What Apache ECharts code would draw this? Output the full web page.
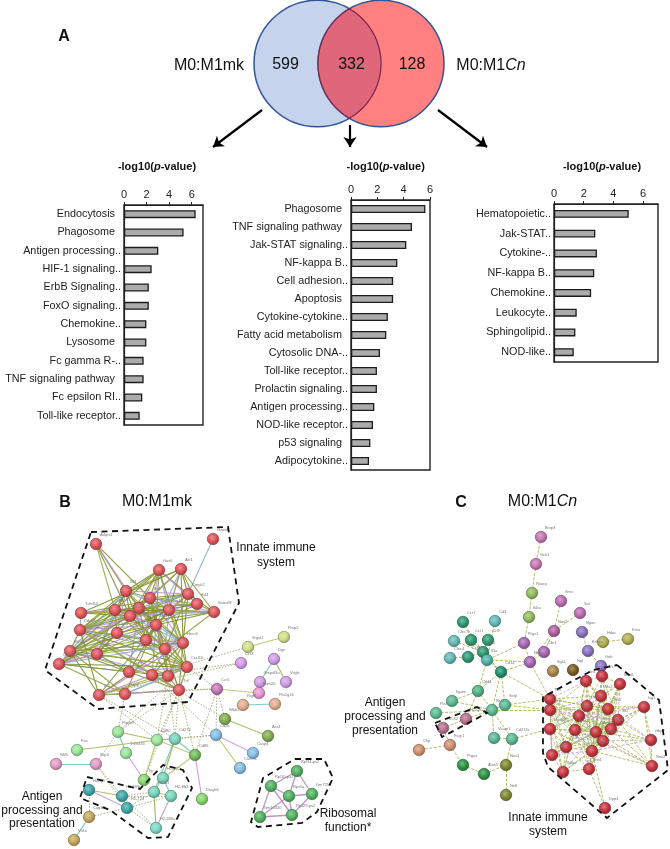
<!DOCTYPE html>
<html><head><meta charset="utf-8">
<style>html,body{margin:0;padding:0;background:#fff}#c{width:670px;height:849px}</style>
<script src="https://cdn.jsdelivr.net/npm/echarts@6/dist/echarts.min.js"></script>
</head><body><div id="c"></div>
<script>
const N2 = '\u00a0\u00a0';
const tickLabels = [0, 2, 4, 6];
const catsA = ['Endocytosis'+N2,'Phagosome'+N2,'Antigen processing..','HIF-1 signaling..','ErbB Signaling..','FoxO signaling..','Chemokine..','Lysosome'+N2,'Fc gamma R-..','TNF signaling pathway'+N2,'Fc epsilon RI..','Toll-like receptor..'];
const valsA = [6.35,5.28,3.04,2.45,2.2,2.2,1.98,1.98,1.74,1.74,1.62,1.39];
const catsB = ['Phagosome'+N2,'TNF signaling pathway'+N2,'Jak-STAT signaling..','NF-kappa B..','Cell adhesion..','Apoptosis'+N2,'Cytokine-cytokine..','Fatty acid metabolism'+N2,'Cytosolic DNA-..','Toll-like receptor..','Prolactin signaling..','Antigen processing..','NOD-like receptor..','p53 signaling'+N2,'Adipocytokine..'];
const valsB = [5.65,4.63,4.2,3.52,3.2,3.2,2.8,2.68,2.2,1.97,1.97,1.77,1.67,1.47,1.37];
const catsC = ['Hematopoietic..','Jak-STAT..','Cytokine-..','NF-kappa B..','Chemokine..','Leukocyte..','Sphingolipid..','NOD-like..'];
const valsC = [5.03,2.78,2.89,2.71,2.5,1.53,1.44,1.33];

// Network B: [gene, layoutX, layoutY, group]
const netB = [
['Adgre1',96,544,'r'],['Gzmb2',213,539,'r'],['Gas6',159,570,'r'],['Axl1',181,569,'r'],['Il44',126,591,'r'],['Ifit1',150,598,'r'],['Cmpk2',188,594,'r'],['Ifi44',197,604,'r'],['Samd9l',214,612,'r'],['Tnfsf10',81,613,'r'],
['Irf7',115,610,'r'],['Stat1',139,608,'r'],['Isg15',169,610,'r'],['Oasl1',130,616,'r'],['Mx1',156,625,'r'],['Ddx58',80,630,'r'],['Ifih1',117,633,'r'],['Rsad2',146,640,'r'],['Herc6',183,643,'r'],['Usp18',165,649,'r'],
['Slfn5',70,651,'r'],['Zbp1',97,654,'r'],['Clec4e',59,664,'r'],['Cxcl9',129,672,'r'],['Cxcl10',187,667,'r'],['Ccl5',152,675,'r'],['Il6',168,676,'r'],['Tlr2',99,695,'r'],['Ptgs2',125,694,'r'],['Tnf',179,690,'r'],
['Stgal1',248,647,'y'],['Pmp2',284,637,'y'],['Ccr3',241,663,'p'],['Dgn',274,659,'p'],['Smpdl3a',260,682,'p'],['Vegfc',286,682,'p'],['Fam20',259,693,'k'],['Ccr5',217,689,'m'],['Pigt3',243,705,'o'],['Pla2g16',275,704,'o'],
['Nfkb2',225,719,'g'],['Ass1',268,736,'g'],['Cd2b',216,735,'b'],['Casp4',253,753,'b'],['Clec7a',240,768,'b'],['Ptprb9',118,732,'l'],['Cd80',157,740,'l'],['Cd274',175,739,'q'],['Cd86',195,755,'d'],['Fas',77,750,'l'],
['Tnfrsf26',126,753,'l'],['Tyr',144,780,'h'],['Dnajb6',202,799,'h'],['Nfil5',56,764,'i'],['Sqs3',96,764,'i'],['H2-T22',163,778,'q'],['H2-Q4',89,790,'t'],['H2-DMb',122,796,'t'],['H2-T23',127,808,'t'],['H2-K1',154,792,'q'],
['H2-Eb1',171,796,'q'],['H2-DMa',156,828,'v'],['Cog3d',89,817,'n'],['Vti1a',74,840,'n'],['Rpl34-ps2',297,771,'e'],['Rpl10-ps2',271,786,'e'],['Rps5a',289,796,'e'],['Gm7297',312,794,'e'],['Rps29-ps2',292,815,'e'],['Gm10320',260,817,'e']
];
// adjacency of the innate immune cluster in B: [source, ...targets]
const adjB = [
[0,4,5,11,13,10],[1,6],[2,4,5,6,7,10,11,12,13,14,15,17,18],[3,4,5,6,7,8,11,12,13,14,9,18],[4,5,6,10,11,12,13,14,15,16,17,18,20,21],[5,6,7,8,11,12,13,14,15,17,18,19,20],[6,7,8,9,11,12,13,14,15,18,19],[7,8,9,10,11,12,13,14],[8,9,10,11,12,13,14,15,19],[9,11,13,12,15],
[10,11,12,13,14,15,17,21,22,16],[11,12,13,14,15,16,17,18,19,20,21,22,23,24],[12,13,14,15,17,18,19,20,22,24],[13,14,15,17,18,19,20,24],[14,15,16,17,18,19,20,21,22,23,24,25,26,27,28,29],[15,17,18,19,20,24,25,26,27,29],[16,17,21,22,24],[17,18,19,20,21,22,24,26],[18,19,20,21,22,24,25,26,27,29],[19,20,25,26,27,29],
[20,22,24,25,26,27,29,28],[21,22,23,24],[22,23,24,26,28],[23,24],[24,26,27,28,29,25],[25,26,27,29],[26,27,28,29],[27,29,28],[28,29]
];
const solidB = [[30,31],[33,34],[33,35],[34,36],[36,37],[38,39],[40,41],[42,43],[42,44],[45,50],[46,49],[46,47],[46,48],[47,48],[46,45],[50,51],[46,51],[47,59],[47,55],[48,52],[48,55],[53,54],[59,61],[60,61],[55,59],[55,60],[56,57],[56,58],[59,60],[62,63]];
const dottedB = [[25,30],[25,32],[27,32],[27,37],[29,37],[45,29],[45,28],[45,24],[46,26],[46,29],[46,27],[47,27],[47,29],[47,26],[42,37],[42,47],[42,46],[48,37],[40,25],[42,25],[54,45],[37,40],[57,58],[57,59],[58,59],[57,60],[58,60],[57,61],[58,61],[54,57],[54,58],[62,56],[62,58],[48,29],[51,29],[37,24]];
const riboB = [[64,65],[64,66],[64,67],[65,66],[65,69],[65,68],[66,67],[66,68],[66,69],[67,68],[69,68]];

const netC = [
['Bnip3',541,537,'m'],['Gch1',536,564,'m'],['Pparg',532,593,'w'],['Il4ra',529,617,'w'],['Sms',561,601,'j'],['Sat',580,613,'j'],['Nos2',554,631,'c'],['Ptgs1',524,643,'u'],['Cbr1',544,652,'u'],['Hif1a',530,662,'u'],
['Ngan',582,632,'z'],['Ednra',588,651,'z'],['Gnb',601,666,'z'],['Hdac',603,642,'x'],['Kmo',628,639,'x'],['Sgk1',553,671,'f'],['Ngf',573,670,'f2'],
['Ccr7',463,622,'s'],['Cd3',495,621,'aa'],['Clec7c',454,641,'aa'],['Ccr1',471,640,'s'],['Ccl9',488,640,'s'],['Clec4',450,658,'aa'],['Ccl2',468,657,'s'],['Ccl6',483,652,'s'],['Il1a',487,660,'ab'],['Cd14',501,672,'ac'],
['Cd44',478,691,'ad'],['Itgam',452,701,'ae'],['Plat',436,713,'ae'],['Ncf1',492,710,'ae'],['Selp',505,705,'ae'],['Vcam1',494,738,'ae'],['Cd274c',512,739,'ae'],['H2-Q7',466,719,'af'],['H2-K2',443,728,'af'],['Fcgr1',450,745,'ag'],['Chp',419,750,'ag'],['Ptges',463,765,'ah'],['Alox5',484,774,'ah'],['Nos1',506,765,'ai'],['Nefl',506,795,'ai'],
['Irf1',586,681,'cr'],['Irf7c',602,676,'cr'],['Mnd1',620,684,'cr'],['Mx2',601,696,'cr'],['Tlr3',550,699,'cr'],['Tlr7',550,710,'cr'],['Oas1',587,706,'cr'],['Oas2',608,709,'cr'],['Isg1',644,707,'cr'],['Ifi35',579,716,'cr'],
['Ifit2',618,720,'cr'],['Myd88',550,729,'cr'],['Stat2',575,730,'cr'],['Ddx60',596,732,'cr'],['Rtp4',611,729,'cr'],['Dhx58',603,741,'cr'],['Gbp2',651,740,'cr'],['Zc3h',566,747,'cr'],['Parp14',592,751,'cr'],['Cd69',552,755,'cr'],
['Nmi2',652,766,'cr'],['Ikbke',563,772,'cr'],['Ifnb1',589,769,'cr'],['Dpp4',605,808,'cr']
];
const adjC = [
[42,43,45,48,51,54,55,60,46,47,49,52],[43,44,45,48,49,56,55,60,52],[44,45,48,49,52,56,57,55,60],[45,48,49,51,52,54,55,56,57,60,64,47,46],[46,47,48,51,53,54,55,59,60,61,49,56],[47,48,49,51,53,54,55,56,57,59,60,61,63,52],[48,49,51,52,54,55,56,57,60,59,64,50,53],[49,50,51,52,54,55,56,57,58,60,59,64],[50,52,55,56,57,58,62,51],[51,53,54,55,56,57,59,60,61,64,52,63],
[52,54,55,56,57,58,60,62,59,64],[53,54,55,59,60,61,63,51],[54,55,56,57,59,60,61,63,64,62],[55,56,57,58,59,60,61,64,62,63],[56,57,58,60,62,64,59],[57,58,59,60,62,64,63,61],[58,62,60],[59,60,61,63,64],[60,61,63,64,62,65],[61,63],[63,64],[64,65]
];
const otherC = [[0,1],[1,2],[2,3],[3,7],[4,6],[5,6],[6,9],[7,9],[8,9],[6,8],[9,26],[9,25],[7,25],[10,11],[11,12],[13,14],[17,24],[18,25],[19,24],[20,24],[21,24],[22,23],[23,24],[24,25],[25,26],[20,26],[24,26],[26,27],[26,30],[26,31],[27,30],[27,28],[27,34],[28,30],[29,30],[30,31],[30,32],[30,33],[32,33],[34,35],[34,30],[36,37],[36,38],[38,39],[39,40],[40,41],[33,40],[35,36],[9,46],[26,46],[31,46],[31,47],[30,47],[33,53],[12,43],[25,27]];

const groupColors = {r:'#e0555c',y:'#cfe08a',p:'#d39ce6',k:'#e89ad6',m:'#c678b6',o:'#e2ae8e',g:'#82ad50',b:'#86bfe8',l:'#9be69a',q:'#76d6bc',d:'#72bb5a',h:'#84d86e',i:'#e49cc4',t:'#3fa8a8',v:'#7fd8c4',n:'#c4a85c',e:'#52b460',
w:'#93bd60',j:'#bc6cb4',c:'#b0609e',u:'#a866b6',z:'#8a72c2',x:'#b2b052',f:'#a8864a',f2:'#7a5c22',s:'#2f9a72',aa:'#62bab6',ab:'#50b2a8',ac:'#1f9070',ad:'#4fb284',ae:'#5cba92',af:'#b8708e',ag:'#d2916f',ah:'#2e9444',ai:'#7e8a30',cr:'#c9363f'};

const BOX = [
 {cats:catsA, vals:valsA, left:124, right:203, top:205, bottom:425, max:7, bw:8},
 {cats:catsB, vals:valsB, left:351, right:430, top:200, bottom:470, max:6, bw:8},
 {cats:catsC, vals:valsC, left:554, right:658, top:204, bottom:362, max:7, bw:8}
];
const ink = '#222';
function shade(hex, f){
  const n = parseInt(hex.slice(1),16), c=[n>>16,(n>>8)&255,n&255];
  const m = c.map(v=>Math.round(f>1? v+(255-v)*(f-1): v*f));
  return 'rgb('+m.join(',')+')';
}
function ball(hex){
  return {type:'radial',x:.42,y:.38,r:.62,colorStops:[{offset:0,color:shade(hex,1.35)},{offset:.55,color:hex},{offset:1,color:shade(hex,.72)}]};
}
function nodes(list){
  return list.map(n=>({name:n[0],value:[n[1],n[2]],itemStyle:{color:ball(groupColors[n[3]]),borderColor:shade(groupColors[n[3]],.6),borderWidth:.6}}));
}
function link(a,b,color,width,type,op){return {source:a,target:b,lineStyle:{color:color,width:width,type:type,opacity:op}};}
const edgeTints = ['#7f9030','#8d9e36','#c088d0','#7f9030','#9aaa3e','#88a8d8','#7a8c2a'];
const linksB = [];
let k=0;
adjB.forEach(r=>r.slice(1).forEach(t=>{linksB.push(link(r[0],t,edgeTints[k++%edgeTints.length],1.1,'solid',.9));}));
const solidTints = ['#b8c870','#78c8c8','#a8bc60','#c8a0d0'];
solidB.forEach((e,i)=>linksB.push(link(e[0],e[1],solidTints[i%4],1.2,'solid',.95)));
dottedB.forEach(e=>linksB.push(link(e[0],e[1],'#a3ad7c',1,[1.5,1.5],.95)));
riboB.forEach(e=>linksB.push(link(e[0],e[1],'#bb8ec6',1.3,'solid',.95)));
const linksC = [];
k=0;
adjC.forEach(r=>r.slice(1).forEach(t=>{linksC.push(link(r[0],t,['#a2b244','#9fae3e','#c49ad0','#a8b84c','#8fb868'][k++%5],.9,[3,1.5],.9));}));
otherC.forEach(e=>linksC.push(link(e[0],e[1],'#b0bb58',1,[3,1.5],.95)));

const dash = {color:'#111',width:1.8,type:[6,4.5],opacity:1};
const fences = [
 [[91,532],[228,527],[239,603],[188,702],[98,709],[45,670],[91,532]],
 [[87,777],[140,789],[163,765],[183,770],[192,788],[168,837],[148,838],[110,810],[80,798],[87,777]],
 [[295,759],[324,759],[333,778],[317,812],[302,823],[258,827],[251,822],[263,778],[295,759]],
 [[617,665],[659,700],[668,770],[607,818],[548,767],[543,753],[543,697],[593,670],[617,665]],
 [[435,723],[477,707],[487,713],[442,737],[435,723]]
];
const arrows = [[[262,110],[213,147]],[[350,125],[350,147]],[[438,110],[487,147]]];

const grids=[], xAxes=[], yAxes=[], series=[];
BOX.forEach((b,i)=>{
  grids.push({left:b.left,top:b.top,width:b.right-b.left,height:b.bottom-b.top,show:true,borderColor:ink,borderWidth:1.4,backgroundColor:'transparent'});
  xAxes.push({type:'value',gridIndex:i,position:'top',min:0,max:b.max,interval:2,splitLine:{show:false},
    axisLine:{show:true,lineStyle:{color:ink,width:1.2}},
    axisTick:{show:true,length:3,customValues:tickLabels,lineStyle:{color:ink}},
    axisLabel:{fontFamily:'Liberation Sans',fontSize:11,color:ink,margin:5,customValues:tickLabels}});
  yAxes.push({type:'category',gridIndex:i,inverse:true,data:b.cats,
    axisLine:{show:true,lineStyle:{color:ink,width:1.2}},axisTick:{show:false},
    axisLabel:{fontFamily:'Liberation Sans',fontSize:10.8,color:ink,margin:3,interval:0}});
  series.push({type:'bar',xAxisIndex:i,yAxisIndex:i,data:b.vals,barWidth:b.bw,silent:true,
    itemStyle:{color:'#ababab',borderColor:'#1c1c1c',borderWidth:1.3}});
});
// page-wide layout axes for the venn arrows, dashed fences and networks
grids.push({left:0,top:0,width:670,height:849,show:false});
xAxes.push({type:'value',gridIndex:3,min:0,max:670,show:false});
yAxes.push({type:'value',gridIndex:3,min:0,max:849,inverse:true,show:false});
function graph(list,links){
  return {type:'graph',coordinateSystem:'cartesian2d',xAxisIndex:3,yAxisIndex:3,silent:true,symbolSize:11.5,
    data:nodes(list),links:links,edgeSymbol:['none','none'],
    label:{show:true,position:[10,-5],fontSize:4,color:'#777',fontFamily:'Liberation Sans',formatter:'{b}'}};
}
series.push(graph(netB,linksB));
series.push(graph(netC,linksC));
series.push({type:'lines',coordinateSystem:'cartesian2d',xAxisIndex:3,yAxisIndex:3,polyline:true,silent:true,z:5,
  lineStyle:dash,data:fences.map(f=>({coords:f}))});
series.push({type:'lines',coordinateSystem:'cartesian2d',xAxisIndex:3,yAxisIndex:3,silent:true,z:5,
  symbol:['none','arrow'],symbolSize:10,lineStyle:{color:'#000',width:2.2,curveness:0,opacity:1},data:arrows.map(a=>({coords:a}))});

const F='Liberation Sans';
function T(x,y,text,size,opt){
  return {type:'text',x:x,y:y,z:10,style:Object.assign({text:text,fontFamily:F,fontSize:size,fill:'#111',align:'center',verticalAlign:'middle'},opt||{})};
}
function axisTitle(x,y){
  return T(x,y,'{b|-log10(}{i|p}{b|-value)}',11,{rich:{b:{fontFamily:F,fontSize:11,fontWeight:'bold',fill:'#111'},i:{fontFamily:F,fontSize:11,fontWeight:'bold',fontStyle:'italic',fill:'#111'}}});
}
function cn(x,y){
  return T(x,y,'{a|M0:M1}{c|Cn}',16,{rich:{a:{fontFamily:F,fontSize:16,fill:'#111'},c:{fontFamily:F,fontSize:16,fontStyle:'italic',fill:'#111'}}});
}
// lens of the two venn circles, as an outline of both arcs
const CY=63.5, RY=63.3;
const lens=[];
for(let a=-60;a<=60;a+=3){const t=a*Math.PI/180;lens.push([317.5+63.5*Math.cos(t),CY+RY*Math.sin(t)]);}
for(let a=120;a<=240;a+=3){const t=a*Math.PI/180;lens.push([381+63*Math.cos(t),CY+RY*Math.sin(t)]);}
const graphic=[
 {type:'ellipse',z:1,shape:{cx:317.5,cy:CY,rx:63.5,ry:RY},style:{fill:'#c5d4ec',stroke:'#2f5597',lineWidth:1.5}},
 {type:'ellipse',z:2,shape:{cx:381,cy:CY,rx:63,ry:RY},style:{fill:'#ff8080',stroke:'#2f5597',lineWidth:1.5}},
 {type:'polygon',z:3,shape:{points:lens},style:{fill:'#e0667a',stroke:'#75264f',lineWidth:1.2}},
 T(64,37,'A',16,{fontWeight:'bold'}),
 T(65,503,'B',16,{fontWeight:'bold'}),
 T(461,503,'C',16,{fontWeight:'bold'}),
 T(209,66,'M0:M1mk',16),
 T(285.5,65,'599',16),T(351.5,65,'332',16),T(412,65,'128',16),
 cn(491,66),
 T(157,502,'M0:M1mk',16),
 cn(542.5,502),
 axisTitle(157,167),axisTitle(385.7,167),axisTitle(602,167),
 T(276,548,'Innate immune',12),T(276,563,'system',12),
 T(42,797,'Antigen',12),T(42,811,'processing and',12),T(42,824,'presentation',12),
 T(348,814,'Ribosomal',12),T(348,828,'function*',12),
 T(385,703,'Antigen',12),T(385,717,'processing and',12),T(385,731,'presentation',12),
 T(548,818,'Innate immune',12),T(548,832,'system',12)
];
const chart=echarts.init(document.getElementById('c'),null,{renderer:'canvas'});
chart.setOption({animation:false,backgroundColor:'#fff',grid:grids,xAxis:xAxes,yAxis:yAxes,series:series,graphic:graphic});
</script></body></html>
